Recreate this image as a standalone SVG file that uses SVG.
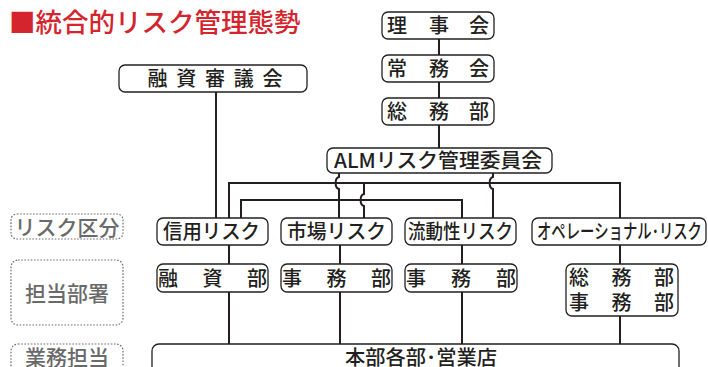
<svg xmlns="http://www.w3.org/2000/svg" width="708" height="367" viewBox="0 0 708 367">
<style>
.box{fill:#fff;stroke:#231f20;stroke-width:1.3}
.lbl{fill:none;stroke:#6d6d6d;stroke-width:1.2;stroke-dasharray:1.6 1.6}
.t{font-family:"Noto Sans CJK JP","Noto Sans",sans-serif;fill:#231f20;font-size:20px;font-weight:500}
.g{font-family:"Noto Sans CJK JP",sans-serif;fill:#6a6a6a;font-size:21px;font-weight:500;text-anchor:middle}
.ln{fill:none;stroke:#231f20;stroke-width:2}
</style>
<rect width="708" height="367" fill="#fff"/>
<text x="9" y="32" font-family="Noto Sans CJK JP, sans-serif" font-size="26.5" font-weight="500" fill="#d4252e">■統合的リスク管理態勢</text>

<g id="connectors">
<path class="ln" d="M216,92V218"/>
<path class="ln" d="M439,39V55M439,82V98M439,125V148"/>
<path class="ln" d="M229,218V183H620V218"/>
<path class="ln" d="M241,218V200H462V218"/>
<path class="ln" d="M339,173V177C334.5,178 334.5,188 339,189V218"/>
<path class="ln" d="M364,183V194C359.5,195 359.5,205 364,206V218"/>
<path class="ln" d="M493,173V177C488.5,178 488.5,188 493,189V218"/>
<path class="ln" d="M229,245V264M340,245V264M462,245V264M620,245V264"/>
<path class="ln" d="M229,292V344M340,292V344M462,292V344M620,316V344"/>
</g>

<g id="label-risk"><rect class="lbl" x="11" y="214" width="112" height="25" rx="6"/><text class="g" x="67" y="235">リスク区分</text></g>
<g id="label-dept"><rect class="lbl" x="11" y="260" width="112" height="65" rx="7"/><text class="g" x="67" y="301">担当部署</text></g>
<g id="label-biz"><rect class="lbl" x="11" y="344" width="112" height="40" rx="7"/><text class="g" x="67" y="365">業務担当</text></g>

<g id="n-yushishingikai"><rect class="box" x="119" y="65" width="188" height="27" rx="6"/><text class="t" font-size="16.5" text-anchor="middle" x="157.5 186.25 215 243.75 272.5" y="86">融資審議会</text></g>
<g id="n-rijikai"><rect class="box" x="382" y="12" width="112" height="27" rx="6"/><text class="t" text-anchor="middle" x="397 439 479" y="33">理事会</text></g>
<g id="n-jomukai"><rect class="box" x="382" y="55" width="112" height="27" rx="6"/><text class="t" text-anchor="middle" x="397 439 479" y="76">常務会</text></g>
<g id="n-somubu"><rect class="box" x="382" y="98" width="112" height="27" rx="6"/><text class="t" text-anchor="middle" x="397 439 479" y="119">総務部</text></g>
<g id="n-alm"><rect class="box" x="327" y="148" width="225" height="25" rx="6"/><text class="t" x="334" y="168" textLength="208" lengthAdjust="spacingAndGlyphs">ALMリスク管理委員会</text></g>

<g id="n-shinyo"><rect class="box" x="157" y="218" width="111" height="27" rx="6"/><text class="t" x="163" y="239" textLength="97" lengthAdjust="spacingAndGlyphs">信用リスク</text></g>
<g id="n-shijo"><rect class="box" x="281" y="218" width="111" height="27" rx="6"/><text class="t" x="287" y="239" textLength="99" lengthAdjust="spacingAndGlyphs">市場リスク</text></g>
<g id="n-ryudo"><rect class="box" x="405" y="218" width="111" height="27" rx="6"/><text class="t" x="408" y="239" textLength="105" lengthAdjust="spacingAndGlyphs">流動性リスク</text></g>
<g id="n-ope"><rect class="box" x="532" y="218" width="174" height="27" rx="6"/><text class="t" font-size="19" x="537" y="239" textLength="165" lengthAdjust="spacingAndGlyphs">オペレーショナル･リスク</text></g>

<g id="n-yushibu"><rect class="box" x="157" y="264" width="111" height="28" rx="6"/><text class="t" text-anchor="middle" x="168 212.5 257" y="286">融資部</text></g>
<g id="n-jimubu1"><rect class="box" x="281" y="264" width="111" height="28" rx="6"/><text class="t" text-anchor="middle" x="292 336.5 381" y="286">事務部</text></g>
<g id="n-jimubu2"><rect class="box" x="405" y="264" width="112" height="28" rx="6"/><text class="t" text-anchor="middle" x="416 461 506" y="286">事務部</text></g>
<g id="n-somu-jimu"><rect class="box" x="566" y="264" width="112" height="52" rx="6"/><text class="t" text-anchor="middle" x="579 621.5 664" y="285">総務部</text><text class="t" text-anchor="middle" x="579 621.5 664" y="310">事務部</text></g>

<g id="n-honbu"><rect class="box" x="152" y="344" width="527" height="40" rx="7"/><text class="t" x="345" y="365" textLength="152" lengthAdjust="spacingAndGlyphs">本部各部･営業店</text></g>
</svg>
